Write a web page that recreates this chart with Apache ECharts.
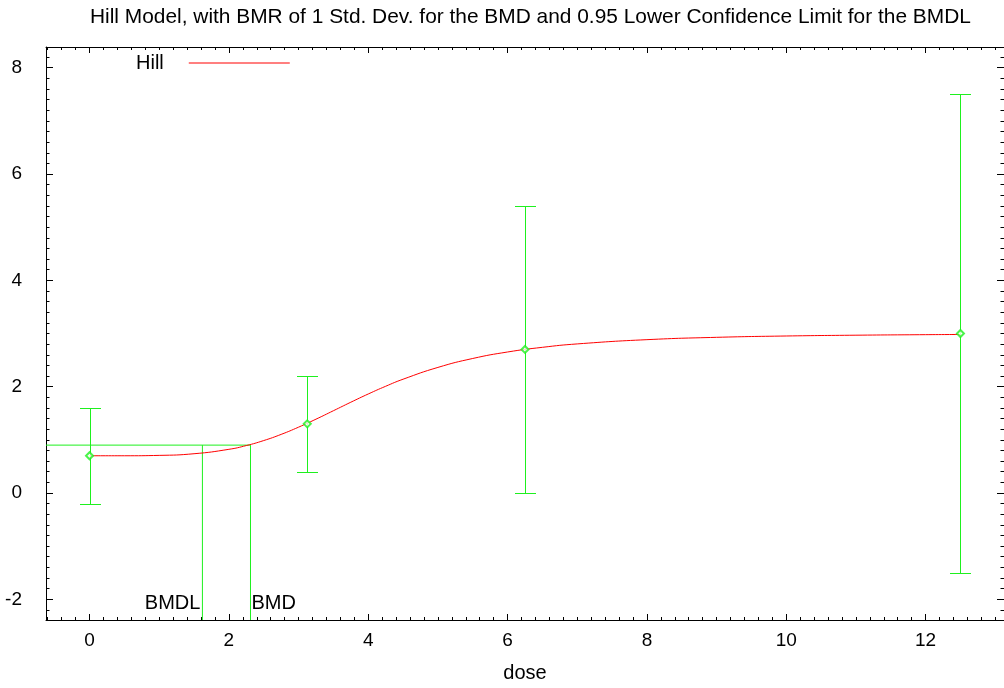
<!DOCTYPE html>
<html>
<head>
<meta charset="utf-8">
<script src="https://cdn.jsdelivr.net/npm/echarts@6/dist/echarts.min.js"></script>
<style>
  html, body { margin: 0; padding: 0; background: #fff; }
  #chart { width: 1004px; height: 688px; }
</style>
</head>
<body>
<div id="chart"></div>
<script>
// Observed group means with their confidence limits
const doses = [0, 3.125, 6.25, 12.5];
const means = [0.7, 1.3, 2.7, 3.0];
const lowerCL = [-0.2, 0.4, 0.0, -1.5];
const upperCL = [1.6, 2.2, 5.4, 7.5];

// Fitted Hill curve, sampled along dose
const hillDose = [0, 0.5, 1, 1.5, 2, 2.25, 2.5, 2.75, 3, 3.25, 3.5, 3.75, 4, 4.25, 4.5, 5, 5.5, 6, 6.5, 7, 8, 9, 10, 11, 12, 12.5];
const hillResp = [0.7, 0.7, 0.707, 0.738, 0.821, 0.892, 0.986, 1.102, 1.238, 1.388, 1.547, 1.707, 1.862, 2.007, 2.14, 2.362, 2.53, 2.652, 2.74, 2.804, 2.884, 2.928, 2.953, 2.968, 2.978, 2.982];

// Benchmark dose results
const bmrLevel = 0.9;
const bmd = 2.31;
const bmdl = 1.62;

// Axis ranges and tick labels
const xRange = [-0.625, 13.125];
const yRange = [-2.39, 8.39];
const xTicks = [0, 2, 4, 6, 8, 10, 12];
const yTicks = [-2, 0, 2, 4, 6, 8];

const GREEN = '#1ef01e';
const RED = '#ff0000';
const FONT = '"Liberation Sans", Arial, sans-serif';

function minorSteps(lo, hi, step) {
  const out = [];
  const start = Math.ceil(lo / step);
  const end = Math.floor(hi / step);
  for (let i = start; i <= end; i++) out.push(+(i * step).toFixed(4));
  return out;
}
const xMinor = minorSteps(xRange[0], xRange[1], 0.2);
const yMinor = minorSteps(yRange[0], yRange[1], 0.2);

function xAxisDef(position, ticks, len, showLine, showLabels) {
  return {
    type: 'value', position: position, min: xRange[0], max: xRange[1],
    axisLine: { show: showLine, onZero: false, lineStyle: { color: '#000', width: 1 } },
    axisTick: { show: true, inside: true, length: len, customValues: ticks, lineStyle: { color: '#000', width: 1 } },
    axisLabel: showLabels ? { show: true, customValues: ticks, margin: 11, color: '#000', fontSize: 19, fontFamily: FONT } : { show: false },
    splitLine: { show: false }
  };
}
function yAxisDef(position, ticks, len, showLine, showLabels) {
  return {
    type: 'value', position: position, min: yRange[0], max: yRange[1],
    axisLine: { show: showLine, onZero: false, lineStyle: { color: '#000', width: 1 } },
    axisTick: { show: true, inside: true, length: len, customValues: ticks, lineStyle: { color: '#000', width: 1 } },
    axisLabel: showLabels ? { show: true, customValues: ticks, margin: 24, color: '#000', fontSize: 19, fontFamily: FONT } : { show: false },
    splitLine: { show: false }
  };
}

const xMain = xAxisDef('bottom', xTicks, 6, true, true);
xMain.name = 'dose';
xMain.nameLocation = 'middle';
xMain.nameGap = 43;
xMain.nameTextStyle = { color: '#000', fontSize: 20, fontFamily: FONT };

const chart = echarts.init(document.getElementById('chart'), null, { renderer: 'canvas' });

// crisp 1px lines on whole pixels
const px = v => Math.round(v) + 0.5;

chart.setOption({
  animation: false,
  backgroundColor: '#fff',
  title: {
    text: 'Hill Model, with BMR of 1 Std. Dev. for the BMD and 0.95 Lower Confidence Limit for the BMDL',
    left: 90, top: 7, padding: 0,
    textStyle: { color: '#000', fontSize: 20.9, fontWeight: 'normal', fontFamily: FONT }
  },
  legend: {
    data: [{ name: 'Hill', icon: 'rect' }],
    left: 136, top: 53, padding: 0,
    align: 'right',
    itemWidth: 101, itemHeight: 1.2,
    textStyle: { color: '#000', fontSize: 20, fontFamily: FONT, padding: [0, 20, 0, 0] }
  },
  grid: { left: 46, top: 47, width: 963, height: 579, containLabel: false },
  xAxis: [
    xMain,
    xAxisDef('bottom', xMinor, 3, false, false),
    xAxisDef('top', xTicks, 6, true, false),
    xAxisDef('top', xMinor, 3, false, false)
  ],
  yAxis: [
    yAxisDef('left', yTicks, 7, true, true),
    yAxisDef('left', yMinor, 3.5, false, false),
    yAxisDef('right', yTicks, 7, true, false),
    yAxisDef('right', yMinor, 3.5, false, false)
  ],
  series: [
    {
      name: 'BMR',
      type: 'line',
      xAxisIndex: 0, yAxisIndex: 0,
      data: [[xRange[0], bmrLevel], [bmd, bmrLevel], [bmd, yRange[0]]],
      symbol: 'none',
      lineStyle: { color: GREEN, width: 1 },
      silent: true,
      z: 2,
      markPoint: {
        symbol: 'circle', symbolSize: 0,
        data: [
          { coord: [bmd, -2.085], value: 'BMD',
            label: { show: true, position: 'right', distance: 1, formatter: 'BMD', color: '#000', fontSize: 20, fontFamily: FONT } },
          { coord: [bmdl, -2.085], value: 'BMDL',
            label: { show: true, position: 'left', distance: 2, formatter: 'BMDL', color: '#000', fontSize: 20, fontFamily: FONT } }
        ]
      }
    },
    {
      name: 'BMDL',
      type: 'line',
      xAxisIndex: 0, yAxisIndex: 0,
      data: [[bmdl, bmrLevel], [bmdl, yRange[0]]],
      symbol: 'none',
      lineStyle: { color: GREEN, width: 1 },
      silent: true,
      z: 2
    },
    {
      name: 'Confidence limits',
      type: 'custom',
      xAxisIndex: 0, yAxisIndex: 0,
      data: doses.map((d, i) => [d, lowerCL[i], upperCL[i]]),
      encode: { x: 0, y: [1, 2] },
      renderItem: function (params, api) {
        const x = api.value(0);
        const lo = api.coord([x, api.value(1)]);
        const hi = api.coord([x, api.value(2)]);
        const cx = px(lo[0]);
        const yl = px(lo[1]);
        const yh = px(hi[1]);
        const hw = 10.5;
        const st = { stroke: GREEN, lineWidth: 1 };
        return {
          type: 'group',
          children: [
            { type: 'line', shape: { x1: cx, y1: yl, x2: cx, y2: yh }, style: st },
            { type: 'line', shape: { x1: cx - hw, y1: yl, x2: cx + hw, y2: yl }, style: st },
            { type: 'line', shape: { x1: cx - hw, y1: yh, x2: cx + hw, y2: yh }, style: st }
          ]
        };
      },
      z: 3
    },
    {
      name: 'Hill',
      type: 'line',
      xAxisIndex: 0, yAxisIndex: 0,
      data: hillDose.map((d, i) => [d, hillResp[i]]),
      smooth: 0.5,
      showSymbol: false,
      symbol: 'none',
      lineStyle: { color: RED, width: 1 },
      itemStyle: { color: RED },
      z: 4
    },
    {
      name: 'Means',
      type: 'scatter',
      xAxisIndex: 0, yAxisIndex: 0,
      data: doses.map((d, i) => [d, means[i]]),
      symbol: 'emptyDiamond',
      symbolSize: 7,
      itemStyle: { color: GREEN, borderColor: GREEN, borderWidth: 1 },
      z: 5
    }
  ]
});
</script>
</body>
</html>
